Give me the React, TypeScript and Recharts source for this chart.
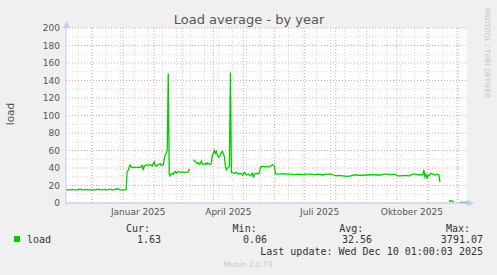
import { LineChart, Line, XAxis, YAxis, ReferenceLine, ReferenceArea } from "recharts";

// day index 0 = 5 Nov 2024, 400 = 10 Dec 2025
const days = [
  0, 2, 4, 6, 8, 10, 12, 14, 16, 18, 20, 22, 24, 26, 28, 30, 32, 34, 36, 38, 40, 42, 44, 46, 48, 50, 52, 54, 56, 58, 60,
  61, 62, 63, 64, 65, 66, 67, 68, 70, 72, 74, 75, 76, 77, 78, 80, 82, 84, 86, 87, 88, 89, 90, 92, 94, 95, 97, 98, 99, 100,
  101, 102, 103, 104, 105, 106, 107, 108, 109, 110, 112, 114, 116, 118, 120, 122, 123, 124, 126,
  127, 128, 129, 130, 131, 132, 133, 134, 135, 136, 137, 139, 140, 141, 142, 144, 145, 146, 147, 148, 149, 150, 151, 152,
  153, 154, 155, 156, 157, 158, 159, 160, 161, 162, 163, 164, 165, 166, 168, 170, 172, 174, 176, 178, 180, 182, 184, 186,
  187, 188, 190, 192, 193, 194, 196, 198, 200, 202, 204, 206, 207, 208, 209, 212, 216, 220, 224, 228, 232, 236, 240, 244,
  248, 252, 256, 260, 264, 267, 269, 272, 276, 280, 284, 287, 290, 294, 298, 302, 306, 310, 314, 317, 320, 324, 328, 331,
  334, 338, 342, 346, 349, 352, 354, 356, 357, 358, 359, 360, 361, 362, 364, 366, 368, 370, 372, 373, 374, 380,
  382, 385, 386, 387, 388, 392, 393, 400,
];
const loads: (number | null)[] = [
  15, 15, 15, 15.5, 15, 15, 15, 16, 15, 15, 15.5, 15, 15, 15, 15, 15, 16, 15, 15, 15.5, 15, 15, 16, 15, 15, 16, 16, 15, 15, 15, 15,
  36, 37, 41, 43.5, 41, 41, 40.5, 41, 40.5, 41, 40.5, 42, 43, 37.5, 42, 43.5, 43, 44, 42, 45, 47, 43, 42, 44, 45, 43, 43.5, 50, 55, 57,
  60, 148, 33, 31, 33, 34, 33, 35, 36, 34, 36, 35, 35.5, 35, 35, 35.5, 39, null, null,
  49, 48.5, 47.5, 46, 45, 46, 44, 45, 48, 45, 44, 45, 44, 46, 45, 44, 46, 55, 57, 60, 57, 59, 55, 52,
  53, 55, 58, 59, 56, 53, 42, 38, 40, 41, 42, 149, 35, 35, 34, 35, 33, 34, 32, 35, 32, 33, 31, 34,
  29, 33, 34, 33, 35, 41, 42, 41, 42, 41, 42, 44, 43, 42, 33, 33, 33.5, 33, 33, 32.5, 33, 32.5, 33, 33,
  32.5, 33, 32, 33, 33, 32, 31, 31.5, 31, 30.5, 31, 32, 32, 31.5, 32, 32, 32.5, 32, 32, 33, 33, 32.5, 33, 31,
  31, 31.5, 31, 33, 33, 32, 32.5, 32, 38, 30, 33, 28, 32, 31, 34, 33, 32, 33, 32, 24, null, null,
  2.3, 2.3, 1.5, 0.8, null, null, 0.8, 0.8,
];

const yTicks = [0, 20, 40, 60, 80, 100, 120, 140, 160, 180, 200];
const yMinor = [10, 30, 50, 70, 90, 110, 130, 150, 170, 190];
const monthStarts = [26, 57, 88, 116, 147, 177, 208, 238, 269, 300, 330, 361, 391];
const minorDays = Array.from({ length: 28 }, (_, i) => 12 + i * 14);
const labelDays = [72, 162, 253, 345];
const labelNames = ["Januar 2025", "April 2025", "Juli 2025", "Oktober 2025"];

const legendHeads = ["Cur:", "Min:", "Avg:", "Max:"];
const legendValues = ["1.63", "0.06", "32.56", "3791.07"];

const data = days.map((d, i) => ({ d, v: loads[i] }));

const MINOR = "#d4d4d4";
const MAJOR = "#e6a4a4";
const AXIS = "#c4cbf2";

export default function App() {
  const mono = "'DejaVu Sans Mono', monospace";
  return (
    <div style={{ position: "absolute", left: 0, top: 0, width: 497, height: 275, background: "#f0f0f0", fontFamily: "'DejaVu Sans', sans-serif" }}>
      <LineChart width={497} height={275} data={data} margin={{ top: 28, right: 30, bottom: 52, left: 0 }}>
        <ReferenceArea x1={0} x2={400} y1={0} y2={200} fill="#ffffff" fillOpacity={1} stroke="none" />
        {yMinor.map((y) => (
          <ReferenceLine key={"ym" + y} y={y} stroke={MINOR} strokeDasharray="1 2" />
        ))}
        {minorDays.map((x) => (
          <ReferenceLine key={"xm" + x} x={x} stroke={MINOR} strokeDasharray="1 2" />
        ))}
        {yTicks.map((y) => (
          <ReferenceLine key={"yM" + y} y={y} stroke={MAJOR} strokeDasharray="1 2" />
        ))}
        {monthStarts.map((x) => (
          <ReferenceLine key={"xM" + x} x={x} stroke={MAJOR} strokeDasharray="1 2" />
        ))}
        <XAxis
          type="number"
          dataKey="d"
          domain={[0, 400]}
          ticks={labelDays}
          tickFormatter={(v: number) => labelNames[labelDays.indexOf(v)]}
          tickLine={false}
          tickSize={0}
          tickMargin={6}
          height={20}
          axisLine={{ stroke: AXIS }}
          tick={{ fill: "#555", fontSize: 9 }}
          interval={0}
          allowDataOverflow
        />
        <YAxis
          domain={[0, 200]}
          ticks={yTicks}
          width={66}
          tickLine={false}
          tickSize={0}
          tickMargin={6}
          axisLine={{ stroke: AXIS }}
          tick={{ fill: "#555", fontSize: 9 }}
          interval={0}
          allowDataOverflow
        />
        <Line type="linear" dataKey="v" stroke="#00cc00" strokeWidth={1.3} dot={false} connectNulls={false} isAnimationActive={false} />
      </LineChart>
      <svg width={497} height={275} style={{ position: "absolute", left: 0, top: 0, pointerEvents: "none" }}>
        <text x={249} y={24} textAnchor="middle" fontSize={13} fill="#555">Load average - by year</text>
        <text x={0} y={0} transform="translate(14,114) rotate(-90)" textAnchor="middle" fontSize={10.5} fill="#555">load</text>
        <text x={0} y={0} transform="translate(485,53) rotate(90)" textAnchor="middle" fontSize={7} fill="#c4c4c4">RRDTOOL / TOBI OETIKER</text>
        <polygon points="63,28 70,28 66.5,21" fill={AXIS} />
        <polygon points="467,199.5 467,206.5 474,203" fill={AXIS} />
        {legendHeads.map((h, i) => (
          <text key={h} x={150 + i * 106.7} y={231.5} textAnchor="end" fontFamily={mono} fontSize={10} fill="#333">{h}</text>
        ))}
        <rect x={14} y={236} width={6} height={6} fill="#00cc00" />
        <text x={27} y={242.5} fontFamily={mono} fontSize={10} fill="#333">load</text>
        {legendValues.map((v, i) => (
          <text key={v} x={[161, 267, 372, 483][i]} y={242.5} textAnchor="end" fontFamily={mono} fontSize={10} fill="#333">{v}</text>
        ))}
        <text x={483} y={254.5} textAnchor="end" fontFamily={mono} fontSize={10} fill="#333">Last update: Wed Dec 10 01:00:03 2025</text>
        <text x={248} y={266.5} textAnchor="middle" fontSize={7.5} fill="#c8c8c8">Munin 2.0.73</text>
      </svg>
    </div>
  );
}
